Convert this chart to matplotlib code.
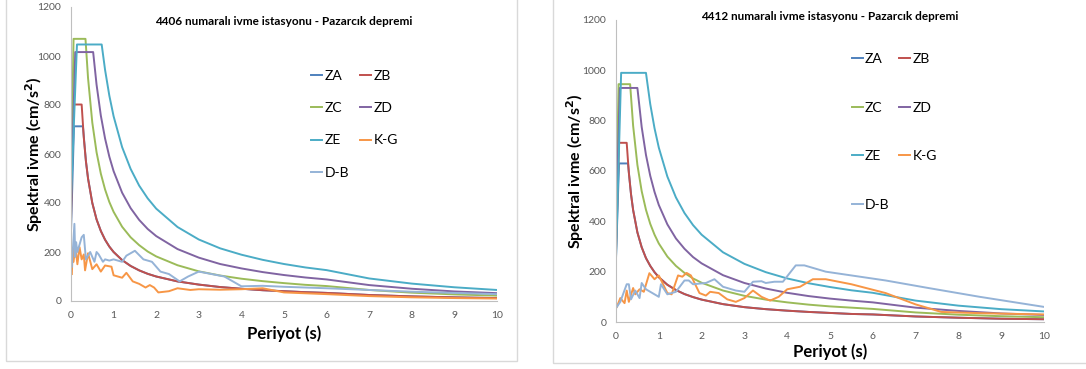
import matplotlib
matplotlib.use("Agg")
import matplotlib.pyplot as plt
from matplotlib.patches import Rectangle

plt.rcParams['font.family'] = ['Lato', 'DejaVu Sans']

# ---- 4406 station (left chart) ----
L_ZA_T = [0, 0.07, 0.28, 0.35, 0.4, 0.5, 0.6, 0.7, 0.8, 0.9, 1, 1.2, 1.4, 1.6, 1.8, 2, 2.5, 3, 3.5, 4, 4.5, 5, 5.5, 6, 7, 8, 9, 10]
L_ZA = [285, 713, 713, 571, 500, 400, 333, 286, 250, 222, 200, 167, 143, 125, 111, 100, 80, 67, 57, 50, 44, 40, 36, 33, 24.5, 18.8, 14.8, 12]
L_ZB_T = [0, 0.05, 0.25, 0.3, 0.35, 0.4, 0.5, 0.6, 0.7, 0.8, 0.9, 1, 1.2, 1.4, 1.6, 1.8, 2, 2.5, 3, 3.5, 4, 4.5, 5, 5.5, 6, 7, 8, 9, 10]
L_ZB = [320, 802, 802, 667, 571, 500, 400, 333, 286, 250, 222, 200, 167, 143, 125, 111, 100, 80, 67, 57, 50, 44, 40, 36, 33, 24.5, 18.8, 14.8, 12]
L_ZC_T = [0, 0.06, 0.34, 0.4, 0.5, 0.6, 0.7, 0.8, 0.9, 1, 1.2, 1.4, 1.6, 1.8, 2, 2.5, 3, 3.5, 4, 4.5, 5, 5.5, 6, 7, 8, 9, 10]
L_ZC = [428, 1070, 1070, 910, 728, 607, 520, 455, 404, 364, 303, 260, 228, 202, 182, 146, 121, 104, 91, 81, 73, 66, 61, 45, 34, 27, 22]
L_ZD_T = [0, 0.1, 0.52, 0.6, 0.7, 0.8, 0.9, 1, 1.2, 1.4, 1.6, 1.8, 2, 2.5, 3, 3.5, 4, 4.5, 5, 5.5, 6, 7, 8, 9, 10]
L_ZD = [406, 1016, 1016, 883, 757, 663, 589, 530, 442, 379, 331, 294, 265, 212, 177, 151, 133, 118, 106, 96, 88, 65, 50, 39, 32]
L_ZE_T = [0, 0.14, 0.72, 0.8, 0.9, 1, 1.2, 1.4, 1.6, 1.8, 2, 2.5, 3, 3.5, 4, 4.5, 5, 5.5, 6, 7, 8, 9, 10]
L_ZE = [419, 1047, 1047, 943, 838, 754, 628, 539, 471, 419, 377, 302, 251, 215, 189, 168, 151, 137, 126, 92, 71, 56, 45]
L_KG_T = [0.02, 0.04, 0.06, 0.1, 0.15, 0.2, 0.25, 0.3, 0.33, 0.4, 0.5, 0.6, 0.7, 0.8, 0.95, 1.0, 1.2, 1.3, 1.45, 1.6, 1.75, 1.85, 1.95, 2.05, 2.3, 2.5, 2.8, 3.0, 3.5, 4.0, 4.5, 5, 6, 7, 8, 9, 10]
L_KG = [110, 215, 160, 225, 150, 220, 170, 190, 125, 195, 130, 150, 120, 145, 140, 105, 95, 115, 80, 70, 55, 65, 55, 35, 40, 52, 45, 48, 46, 48, 52, 35, 28, 20, 15, 12, 10]
L_DB_T = [0.02, 0.08, 0.1, 0.12, 0.15, 0.2, 0.25, 0.3, 0.35, 0.45, 0.55, 0.6, 0.65, 0.75, 0.8, 0.9, 1.0, 1.2, 1.3, 1.5, 1.7, 1.9, 2.1, 2.3, 2.55, 2.75, 3.0, 3.3, 3.6, 4.0, 4.5, 5, 6, 7, 8, 9, 10]
L_DB = [140, 315, 180, 240, 200, 230, 260, 270, 170, 200, 160, 200, 190, 160, 170, 165, 170, 160, 185, 205, 170, 160, 120, 110, 80, 100, 120, 110, 100, 60, 62, 58, 52, 45, 38, 33, 28]

# ---- 4412 station (right chart) ----
R_ZA_T = [0, 0.07, 0.28, 0.35, 0.4, 0.5, 0.6, 0.7, 0.8, 0.9, 1, 1.2, 1.4, 1.6, 1.8, 2, 2.5, 3, 3.5, 4, 4.5, 5, 5.5, 6, 7, 8, 9, 10]
R_ZA = [252, 630, 630, 509, 445, 356, 297, 254, 223, 198, 178, 148, 127, 111, 99, 89, 71, 59, 51, 45, 40, 36, 32, 30, 22, 17, 13, 11]
R_ZB_T = [0, 0.07, 0.25, 0.3, 0.35, 0.4, 0.5, 0.6, 0.7, 0.8, 0.9, 1, 1.2, 1.4, 1.6, 1.8, 2, 2.5, 3, 3.5, 4, 4.5, 5, 5.5, 6, 7, 8, 9, 10]
R_ZB = [285, 712, 712, 593, 509, 445, 356, 297, 254, 223, 198, 178, 148, 127, 111, 99, 89, 71, 59, 51, 45, 40, 36, 32, 30, 22, 17, 13, 11]
R_ZC_T = [0, 0.06, 0.33, 0.4, 0.5, 0.6, 0.7, 0.8, 0.9, 1, 1.2, 1.4, 1.6, 1.8, 2, 2.5, 3, 3.5, 4, 4.5, 5, 5.5, 6, 7, 8, 9, 10]
R_ZC = [378, 945, 945, 780, 624, 520, 446, 390, 347, 312, 260, 223, 195, 173, 156, 125, 104, 89, 78, 69, 62, 57, 52, 38, 29, 23, 19]
R_ZD_T = [0, 0.09, 0.5, 0.6, 0.7, 0.8, 0.9, 1, 1.2, 1.4, 1.6, 1.8, 2, 2.5, 3, 3.5, 4, 4.5, 5, 5.5, 6, 7, 8, 9, 10]
R_ZD = [372, 930, 930, 775, 664, 581, 517, 465, 388, 332, 291, 258, 233, 186, 155, 133, 116, 103, 93, 85, 78, 57, 44, 34, 28]
R_ZE_T = [0, 0.12, 0.7, 0.8, 0.9, 1, 1.2, 1.4, 1.6, 1.8, 2, 2.5, 3, 3.5, 4, 4.5, 5, 5.5, 6, 7, 8, 9, 10]
R_ZE = [260, 990, 990, 866, 770, 693, 578, 495, 433, 385, 347, 277, 231, 198, 173, 154, 139, 126, 116, 85, 65, 51, 42]
R_KG_T = [0.02, 0.1, 0.2, 0.25, 0.3, 0.4, 0.45, 0.55, 0.65, 0.78, 0.9, 1.0, 1.2, 1.3, 1.45, 1.55, 1.65, 1.75, 1.95, 2.1, 2.2, 2.4, 2.6, 2.8, 3.0, 3.2, 3.4, 3.6, 3.8, 4.0, 4.3, 4.6, 4.9, 5.5, 6.3, 7, 7.6, 8.5, 10]
R_KG = [60, 95, 75, 125, 80, 135, 110, 130, 120, 194, 170, 185, 115, 110, 185, 180, 195, 185, 115, 105, 120, 115, 90, 80, 95, 125, 100, 85, 100, 130, 140, 170, 170, 150, 115, 70, 40, 35, 30]
R_DB_T = [0.02, 0.1, 0.25, 0.3, 0.35, 0.45, 0.55, 0.6, 0.7, 0.8, 1.0, 1.05, 1.2, 1.4, 1.6, 1.7, 1.8, 2.1, 2.3, 2.5, 2.8, 3.0, 3.2, 3.4, 3.5, 3.7, 3.9, 4.2, 4.4, 4.9, 5.5, 6.3, 7.3, 8.5, 10]
R_DB = [60, 80, 150, 150, 90, 125, 95, 155, 130, 120, 100, 150, 110, 120, 165, 165, 150, 155, 170, 140, 125, 120, 160, 162, 155, 160, 160, 225, 225, 200, 185, 165, 135, 100, 60]

NAMES = ['ZA', 'ZB', 'ZC', 'ZD', 'ZE', 'K-G', 'D-B']
COLORS = ['#4F81BD', '#C0504D', '#9BBB59', '#8064A2', '#4BACC6', '#F79646', '#95B3D7']

LEFT = [(L_ZA_T, L_ZA), (L_ZB_T, L_ZB), (L_ZC_T, L_ZC), (L_ZD_T, L_ZD),
        (L_ZE_T, L_ZE), (L_KG_T, L_KG), (L_DB_T, L_DB)]
RIGHT = [(R_ZA_T, R_ZA), (R_ZB_T, R_ZB), (R_ZC_T, R_ZC), (R_ZD_T, R_ZD),
         (R_ZE_T, R_ZE), (R_KG_T, R_KG), (R_DB_T, R_DB)]

W, H = 1086, 369
fig = plt.figure(figsize=(W / 100, H / 100), dpi=100)

# chart borders (Excel chart area)
fig.patches.append(Rectangle((6 / W, 1 - 361 / H), 511 / W, 361 / H + 0.01,
                             transform=fig.transFigure, fill=False, ec='#D9D9D9', lw=1))
fig.patches.append(Rectangle((553 / W, 1 - 363 / H), 540 / W, 363 / H + 0.01,
                             transform=fig.transFigure, fill=False, ec='#D9D9D9', lw=1))


def draw(rect, series, title, title_y, leg_anchor, leg_spacing, col_spacing, xlab_pad, ylab_pad):
    ax = fig.add_axes(rect)
    for (t, v), name, c in zip(series, NAMES, COLORS):
        ax.plot(t, v, color=c, lw=1.4, label=name)
    ax.set_xlim(0, 10)
    ax.set_ylim(0, 1200)
    ax.set_xticks(range(0, 11))
    ax.set_yticks(range(0, 1201, 200))
    for s in ['top', 'right']:
        ax.spines[s].set_visible(False)
    for s in ['left', 'bottom']:
        ax.spines[s].set_color('#BFBFBF')
    ax.tick_params(length=0, labelsize=7.5, labelcolor='#595959', pad=7)
    ax.set_xlabel('Periyot (s)', fontsize=12, fontweight='bold', labelpad=xlab_pad)
    ax.set_ylabel('Spektral ivme (cm/s$^\\mathbf{2}$)', fontsize=11.5, fontweight='bold',
                  labelpad=ylab_pad)
    ax.text(0.5, title_y, title, transform=ax.transAxes, ha='center', va='center',
            fontsize=8.5, fontweight='bold')
    h, l = ax.get_legend_handles_labels()
    order = [0, 2, 4, 6, 1, 3, 5]
    ax.legend([h[i] for i in order], [l[i] for i in order], ncol=2, loc='upper left',
              bbox_to_anchor=leg_anchor, frameon=False, fontsize=10,
              handlelength=0.8, handletextpad=0.15, labelspacing=leg_spacing,
              columnspacing=col_spacing, borderaxespad=0)
    return ax


draw([71 / W, 1 - 301 / H, 426 / W, 294 / H], LEFT,
     '4406 numaralı ivme istasyonu - Pazarcık depremi', 0.95,
     (0.551, 0.804), 1.45, 0.8, 4, -5.5)
draw([616 / W, 1 - 322 / H, 428 / W, 302 / H], RIGHT,
     '4412 numaralı ivme istasyonu - Pazarcık depremi', 1.013,
     (0.538, 0.908), 2.62, 0.7, 2, -2.5)

fig.savefig('out.png', dpi=100)
